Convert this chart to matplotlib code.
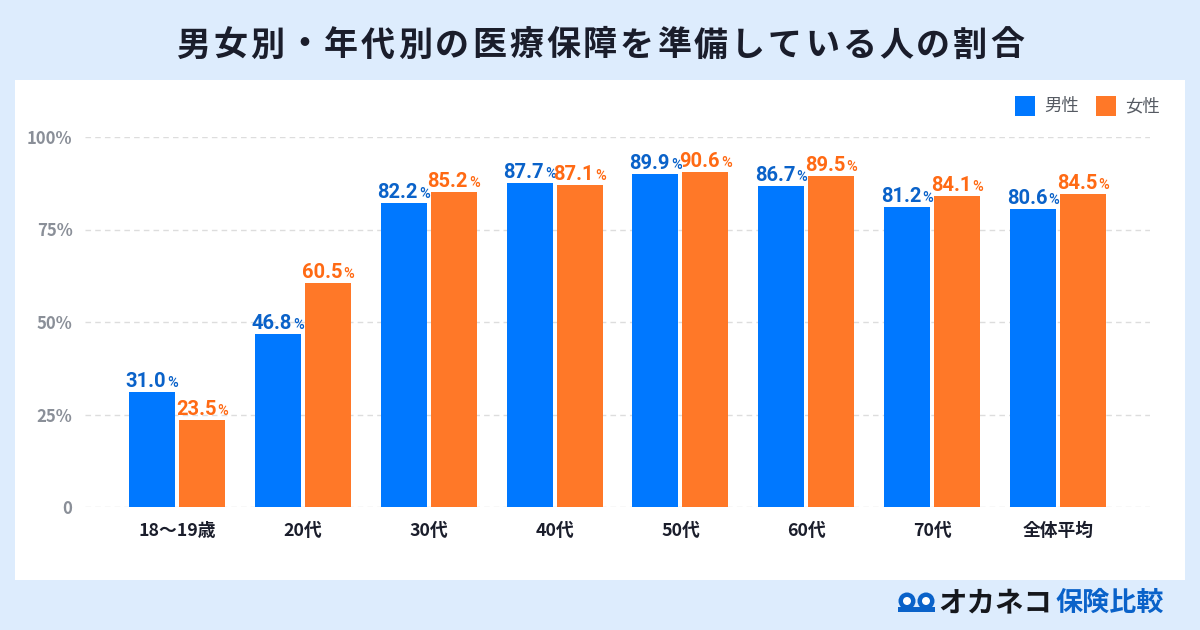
import matplotlib
matplotlib.use("Agg")
import matplotlib.pyplot as plt
from matplotlib.patches import Rectangle, Circle
from matplotlib.transforms import offset_copy
import numpy as np

plt.rcParams['font.family'] = ['Noto Sans CJK JP', 'DejaVu Sans']

categories = ["18〜19歳", "20代", "30代", "40代", "50代", "60代", "70代", "全体平均"]
male = [31.0, 46.8, 82.2, 87.7, 89.9, 86.7, 81.2, 80.6]
female = [23.5, 60.5, 85.2, 87.1, 90.6, 89.5, 84.1, 84.5]
series_names = ["男性", "女性"]
yticks = [0, 25, 50, 75, 100]
ytick_labels = ["0", "25%", "50%", "75%", "100%"]
title = "男女別・年代別の医療保障を準備している人の割合"

W, H = 1200, 630
BG = "#DDECFD"
BLUE = "#0078FF"
ORANGE = "#FF7828"
BLUE_TXT = "#0A62C9"
ORANGE_TXT = "#FF6A14"
NUM_FONT = ["Roboto", "DejaVu Sans"]

fig = plt.figure(figsize=(12, 6.3), dpi=100)
fig.patch.set_facecolor(BG)

def fx(px):
    return px / W

def fy(py):
    return 1 - py / H

# white panel
panel = Rectangle((fx(15), fy(580)), fx(1185) - fx(15), fy(80) - fy(580),
                  transform=fig.transFigure, facecolor="white", edgecolor="none", zorder=-10)
fig.patches.append(panel)

# title with slight letter spacing
fig.canvas.draw()
renderer = fig.canvas.get_renderer()
tsize = 24.5
spacing = 3.0
chars = []
widths = []
for ch in title:
    t = fig.text(0, fy(45), ch, ha="left", va="center", fontsize=tsize, fontweight="bold", color="#1A1D2B")
    widths.append(t.get_window_extent(renderer).width)
    chars.append(t)
total_w = sum(widths) + spacing * (len(chars) - 1)
cur = (W - total_w) / 2
for t, w in zip(chars, widths):
    t.set_x(fx(cur))
    cur += w + spacing

ax = fig.add_axes([fx(85), fy(507), fx(1150) - fx(85), fy(137) - fy(507)])
ax.set_facecolor("none")
ax.set_ylim(0, 100)
ax.set_xlim(-0.73, len(categories) - 1 + 0.73)
for s in ax.spines.values():
    s.set_visible(False)

x = np.arange(len(categories))
bw = 0.365
gap = 0.016
ax.bar(x - bw / 2 - gap, male, width=bw, color=BLUE, zorder=3)
ax.bar(x + bw / 2 + gap, female, width=bw, color=ORANGE, zorder=3)

ax.set_yticks(yticks)
ax.set_yticklabels(ytick_labels)
ax.tick_params(axis="y", length=0, pad=9, labelsize=12, labelcolor="#8A8F98")
for lbl in ax.get_yticklabels():
    lbl.set_fontweight("bold")
ax.yaxis.grid(True, color="#DDDDDD", linestyle=(0, (4, 3)), linewidth=1.0, zorder=0)
ax.set_axisbelow(True)

ax.set_xticks(x)
ax.set_xticklabels(categories)
ax.tick_params(axis="x", length=0, pad=11, labelsize=12.8, labelcolor="#1A1D2B")
for lbl in ax.get_xticklabels():
    lbl.set_fontweight("bold")

# value labels
fig.canvas.draw()
renderer = fig.canvas.get_renderer()

def value_label(xc, val, color):
    num = f"{val:.1f}"
    t1 = ax.text(xc, val, num, fontsize=14.5, fontweight="bold", family=NUM_FONT, color=color,
                 ha="left", va="baseline",
                 transform=offset_copy(ax.transData, fig=fig, x=0, y=5, units="dots"), clip_on=False, zorder=5)
    t2 = ax.text(xc, val, "%", fontsize=10.5, fontweight="medium", family=NUM_FONT, color=color,
                 ha="left", va="baseline",
                 transform=offset_copy(ax.transData, fig=fig, x=0, y=5, units="dots"), clip_on=False, zorder=5)
    w1 = t1.get_window_extent(renderer).width
    w2 = t2.get_window_extent(renderer).width
    total = w1 + w2 + 1
    t1.set_transform(offset_copy(ax.transData, fig=fig, x=-total / 2, y=5, units="dots"))
    t2.set_transform(offset_copy(ax.transData, fig=fig, x=-total / 2 + w1 + 1, y=5, units="dots"))

for i in range(len(categories)):
    value_label(x[i] - bw / 2 - gap, male[i], BLUE_TXT)
    value_label(x[i] + bw / 2 + gap, female[i], ORANGE_TXT)

# legend
for (x0, color, name) in [(1015, BLUE, series_names[0]), (1096, ORANGE, series_names[1])]:
    fig.patches.append(Rectangle((fx(x0), fy(116)), fx(20), fy(96) - fy(116),
                                 transform=fig.transFigure, facecolor=color, edgecolor="none"))
    fig.text(fx(x0 + 29), fy(106), name, ha="left", va="center", fontsize=12.5, color="#555A62")

# logo
logo_y = fy(603)
for cx in (907, 926):
    c_in = (cx / 100.0, (H - 601) / 100.0)
    fig.patches.append(Circle(c_in, radius=0.085, transform=fig.dpi_scale_trans,
                              facecolor="#0A62C9", edgecolor="none"))
    fig.patches.append(Circle(c_in, radius=0.04, transform=fig.dpi_scale_trans,
                              facecolor="white", edgecolor="none"))
fig.patches.append(Rectangle((898 / 100.0, (H - 612) / 100.0), 0.37, 0.05, transform=fig.dpi_scale_trans,
                             facecolor="#0A62C9", edgecolor="none"))
fig.text(fx(938), logo_y, "オカネコ", ha="left", va="center", fontsize=20.5, fontweight="bold", color="#15171C")
fig.text(fx(1056), logo_y, "保険比較", ha="left", va="center", fontsize=19.5, fontweight="bold", color="#0A62C9")

fig.savefig("out.png", dpi=100, facecolor=BG)
